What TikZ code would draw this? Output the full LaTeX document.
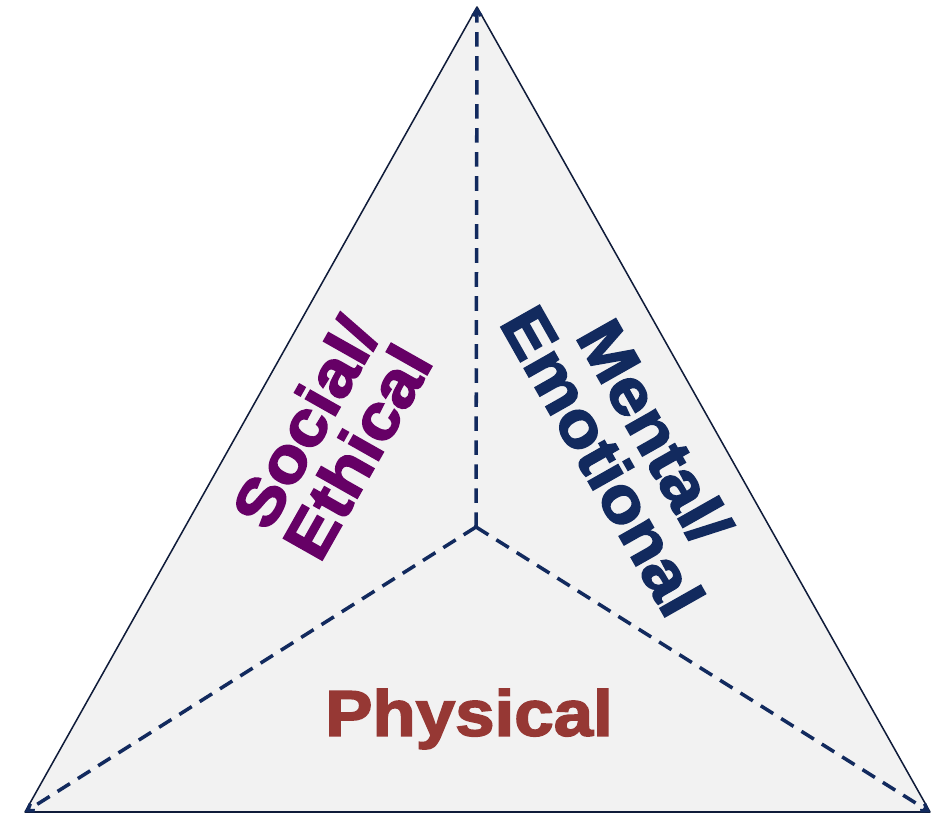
\documentclass[tikz,border=0pt]{standalone}
\usepackage{fontspec}
\setmainfont{Liberation Sans}[BoldFeatures={FakeBold=2.6,FakeStretch=1.1}]
\usepackage{xcolor}
\definecolor{navy}{RGB}{18,42,94}
\definecolor{edge}{RGB}{16,28,58}
\definecolor{plum}{RGB}{102,0,102}
\definecolor{brick}{RGB}{150,56,52}
\definecolor{paper}{RGB}{242,242,242}
\usetikzlibrary{arrows.meta}
\tikzset{
  divider/.style={draw=navy, line width=3pt, dash pattern=on 12.5pt off 8pt,
                  -{Straight Barb[length=5pt,width=7pt]}},
  facet/.style={font=\fontsize{55}{51}\selectfont\bfseries, align=center, inner sep=0pt},
}

\begin{document}
\begin{tikzpicture}[x=0.03cm,y=-0.03cm]
\useasboundingbox (0,0) rectangle (943,817);
% corners and centre of the triangle
\coordinate (top) at (477,7);
\coordinate (left) at (25,812);
\coordinate (right) at (930,812);
\coordinate (mid) at (476,527);

\draw[edge, fill=paper, line width=1.3pt, line join=round] (top) -- (right) -- (left) -- cycle;

% split into three faces
\draw[divider] (mid) -- (top);
\draw[divider] (mid) -- (left);
\draw[divider] (mid) -- (right);

\node[facet, text=plum, rotate=60.5] (social) at (331,437) {Social/\\Ethical};
\node[facet, text=navy, rotate=-60.5] (mental) at (629,446) {Mental/\\Emotional};
\node[facet, text=brick] (physical) at (469,719) {Physical};
\end{tikzpicture}
\end{document}
